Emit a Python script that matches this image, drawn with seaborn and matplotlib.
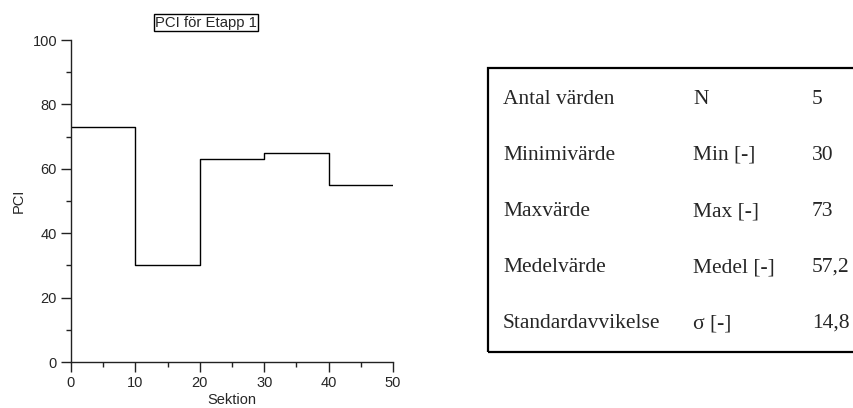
import matplotlib
matplotlib.use("Agg")
import matplotlib.pyplot as plt
from matplotlib.patches import Rectangle
from matplotlib.ticker import MultipleLocator
import numpy as np
import pandas as pd
import seaborn as sns

# Section boundaries and PCI value per section
section_edges = [0, 10, 20, 30, 40, 50]
pci_values = [73, 30, 63, 65, 55]

# Summary statistics table
stat_names = ["Antal värden", "Minimivärde", "Maxvärde", "Medelvärde", "Standardavvikelse"]
stat_symbols = ["N", "Min [-]", "Max [-]", "Medel [-]", "σ [-]"]
stat_values = ["5", "30", "73", "57,2", "14,8"]

sns.set_theme(style="ticks")
plt.rcParams["font.family"] = ["Liberation Sans", "DejaVu Sans"]

fig = plt.figure(figsize=(8.54, 4.08), dpi=100)
ax = fig.add_axes([71 / 854, 1 - 362 / 408, 322 / 854, 322 / 408])

df = pd.DataFrame({
    "Sektion": section_edges,
    "PCI": pci_values + [pci_values[-1]],
})
sns.lineplot(data=df, x="Sektion", y="PCI", ax=ax, drawstyle="steps-post",
             color="black", linewidth=1.0)

ax.set_xlim(0, 50)
ax.set_ylim(0, 100)
ax.xaxis.set_major_locator(MultipleLocator(10))
ax.xaxis.set_minor_locator(MultipleLocator(5))
ax.yaxis.set_major_locator(MultipleLocator(20))
ax.yaxis.set_minor_locator(MultipleLocator(10))
ax.tick_params(which="major", direction="out", length=7, width=1, color="#222222",
               labelsize=10.5, pad=3)
ax.tick_params(which="minor", direction="out", length=3.5, width=1, color="#222222")
for side in ["top", "right"]:
    ax.spines[side].set_visible(False)
for side in ["left", "bottom"]:
    ax.spines[side].set_color("#222222")
    ax.spines[side].set_linewidth(1.0)
ax.set_xlabel("Sektion", fontsize=10.5, labelpad=2)
ax.set_ylabel("PCI", fontsize=10.5, labelpad=5)

fig.text(206 / 854, 1 - 22.5 / 408, "PCI för Etapp 1", ha="center", va="center",
         fontsize=10.7,
         bbox=dict(boxstyle="square,pad=0.1", facecolor="white", edgecolor="black",
                   linewidth=1.0))

# Statistics box
box_top, box_bottom = 68, 352
box = Rectangle((488 / 854, 1 - box_bottom / 408), 0.6, (box_bottom - box_top) / 408,
                transform=fig.transFigure, fill=False, edgecolor="black",
                linewidth=1.6, clip_on=False)
fig.add_artist(box)

row_baselines = [104, 160, 216, 272, 328]
col_x = [503, 693, 812]
for y, name, sym, val in zip(row_baselines, stat_names, stat_symbols, stat_values):
    for x, txt in zip(col_x, [name, sym, val]):
        fig.text(x / 854, 1 - y / 408, txt, ha="left", va="baseline",
                 fontsize=15.5, family=["Liberation Serif", "DejaVu Serif"])

fig.savefig("out.png", dpi=100)
